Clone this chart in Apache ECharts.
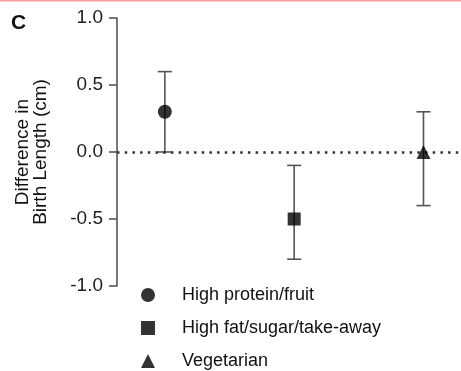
<!DOCTYPE html>
<html><head><meta charset="utf-8">
<script src="https://cdn.jsdelivr.net/npm/echarts@6/dist/echarts.min.js"></script>
<style>html,body{margin:0;padding:0;background:#fff}#c{width:461px;height:371px}</style>
</head><body><div id="c"></div>
<script>
const groups = ['High protein/fruit', 'High fat/sugar/take-away', 'Vegetarian'];
const xPos = [1, 2, 3];
const means = [0.3, -0.5, 0.0];
const lows = [0.0, -0.8, -0.4];
const highs = [0.6, -0.1, 0.3];
const symbols = ['circle', 'rect', 'triangle'];
const symbolSizes = [14, 13, 14];
const yTicks = [-1.0, -0.5, 0.0, 0.5, 1.0];

const chart = echarts.init(document.getElementById('c'));
const font = '"Liberation Sans", Arial, sans-serif';

const pointSeries = groups.map((g, i) => ({
  name: g,
  type: 'scatter',
  data: [[xPos[i], means[i]]],
  symbol: symbols[i],
  symbolSize: symbolSizes[i],
  itemStyle: { color: '#000' },
  z: 5
}));

const errSeries = {
  type: 'custom',
  data: xPos.map((x, i) => [x, lows[i], highs[i]]),
  renderItem: function (params, api) {
    const x = api.value(0);
    const lo = api.coord([x, api.value(1)]);
    const hi = api.coord([x, api.value(2)]);
    const cw = 7;
    const st = { stroke: '#555', lineWidth: 1.6 };
    return { type: 'group', children: [
      { type: 'line', shape: { x1: lo[0], y1: lo[1], x2: hi[0], y2: hi[1] }, style: st },
      { type: 'line', shape: { x1: lo[0] - cw, y1: lo[1], x2: lo[0] + cw, y2: lo[1] }, style: st },
      { type: 'line', shape: { x1: hi[0] - cw, y1: hi[1], x2: hi[0] + cw, y2: hi[1] }, style: st }
    ]};
  },
  markLine: {
    silent: true, symbol: 'none', label: { show: false },
    lineStyle: { color: '#333', type: [2.5, 5.2], width: 2.5 },
    data: [{ yAxis: 0 }]
  },
  z: 3
};

chart.setOption({
  animation: false,
  grid: { left: 117, top: 18, height: 268, right: 0 },
  xAxis: { type: 'value', min: 0.63, max: 3.29, show: false },
  yAxis: {
    type: 'value', min: -1, max: 1, interval: 0.5,
    name: 'Difference in\nBirth Length (cm)',
    nameLocation: 'middle', nameRotate: 90, nameGap: 67,
    nameTextStyle: { fontSize: 19, color: '#111', fontFamily: font, lineHeight: 18 },
    axisLine: { show: true, lineStyle: { color: '#555', width: 1.6 } },
    axisTick: { show: true, length: 8, lineStyle: { color: '#555', width: 1.6 } },
    axisLabel: { fontSize: 19, color: '#222', fontFamily: font, margin: 14,
      formatter: v => v.toFixed(1) },
    splitLine: { show: false }
  },
  legend: {
    orient: 'vertical', left: 141, top: 286, height: 85, padding: 0,
    itemWidth: 14, itemHeight: 14, itemGap: 15,
    data: groups.map((g, i) => ({ name: g, icon: symbols[i] })),
    itemStyle: { color: '#000' },
    textStyle: { fontSize: 18, color: '#111', fontFamily: font, padding: [0, 0, 0, 22] }
  },
  graphic: [
    { type: 'text', left: 11, top: 13, style: { text: 'C', font: 'bold 21px ' + font, fill: '#111' } },
    { type: 'rect', shape: { x: 0, y: 0, width: 461, height: 1.5 }, style: { fill: '#f4a0a0' } }
  ],
  series: [errSeries].concat(pointSeries)
});
</script></body></html>
